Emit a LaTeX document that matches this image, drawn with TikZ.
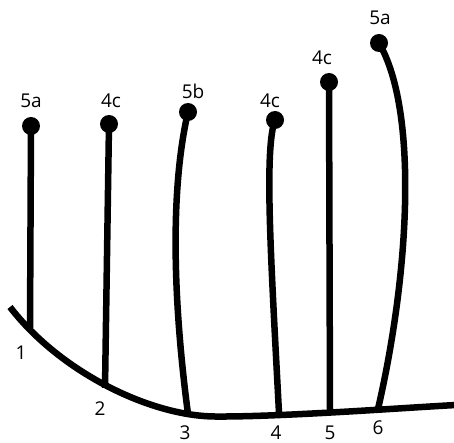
\documentclass[tikz,border=0pt]{standalone}
\usepackage{fontspec}
\setmainfont{Open Sans}
\begin{document}
\begin{tikzpicture}[x=1pt,y=-1pt,
  stem/.style={line width=6.5pt},
  dot/.style={circle,fill=black,inner sep=0pt,minimum size=18pt},
  lab/.style={font=\fontsize{19}{19}\selectfont,inner sep=0pt}]
\useasboundingbox (0,0) rectangle (454,443);
% dots
\node[dot] (d1) at (31,126) {};
\node[dot] (d2) at (109,124) {};
\node[dot] (d3) at (188,112) {};
\node[dot] (d4) at (275,120) {};
\node[dot] (d5) at (329,82) {};
\node[dot] (d6) at (379,43) {};
% top labels
\node[lab] (t1) at (31,101) {5a};
\node[lab] (t2) at (111,101) {4c};
\node[lab] (t3) at (193,91) {5b};
\node[lab] (t4) at (270,101) {4c};
\node[lab] (t5) at (322,58) {4c};
\node[lab] (t6) at (380,18) {5a};
% base points
\coordinate (b0) at (10,307);
\coordinate (b1) at (30,328);
\coordinate (b2) at (105,388);
\coordinate (b3) at (188,414);
\coordinate (b4) at (279,413);
\coordinate (b5) at (330,411);
\coordinate (b6) at (378,409);
\coordinate (b7) at (456,405);
% base curve
\draw[stem] (b0) .. controls (60,372) and (150,416) .. (215,416.5)
  .. controls (280,417) and (400,408) .. (b7);
% stems
\draw[stem] (d1.center) -- (b1);
\draw[stem] (d2.center) -- (b2);
\draw[stem] (d3.center) .. controls (170,190) and (173,300) .. (b3);
\draw[stem] (d4.center) .. controls (264,150) and (271,260) .. (b4);
\draw[stem] (d5.center) -- (b5);
\draw[stem] (d6.center) .. controls (418,110) and (410,270) .. (b6);
% bottom labels
\node[lab] (n1) at (21,353) {1};
\node[lab] (n2) at (100,409) {2};
\node[lab] (n3) at (185,433) {3};
\node[lab] (n4) at (276,433) {4};
\node[lab] (n5) at (330,433) {5};
\node[lab] (n6) at (378,428) {6};
\end{tikzpicture}
\end{document}
